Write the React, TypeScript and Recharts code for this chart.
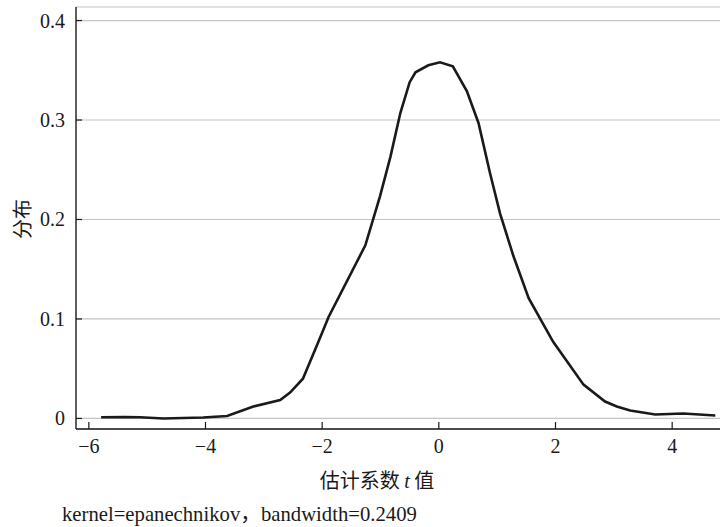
import { LineChart, Line, XAxis, YAxis, CartesianGrid } from 'recharts';

// kernel density estimate of t values
const tValues = [
  -5.79, -5.4, -5.12, -4.72, -4.04, -3.63, -3.18, -2.72, -2.55, -2.33,
  -2.05, -1.89, -1.26, -1.01, -0.83, -0.66, -0.5, -0.4, -0.18, 0.02,
  0.24, 0.48, 0.68, 0.88, 1.05, 1.28, 1.54, 1.96, 2.48, 2.85, 3.05,
  3.28, 3.71, 4.19, 4.74,
];
const density = [
  0.0012, 0.0015, 0.0012, 0.0, 0.001, 0.0025, 0.012, 0.0186, 0.026, 0.04,
  0.079, 0.102, 0.174, 0.223, 0.263, 0.307, 0.338, 0.348, 0.355, 0.358,
  0.354, 0.329, 0.297, 0.246, 0.206, 0.163, 0.121, 0.077, 0.034, 0.017,
  0.012, 0.008, 0.004, 0.005, 0.003,
];
const xTicks = [-6, -4, -2, 0, 2, 4];
const yTicks = [0, 0.1, 0.2, 0.3, 0.4];

const data = tValues.map((t, i) => ({ t, d: density[i] }));

const SERIF = 'Liberation Serif';
const CJK = 'Noto Sans CJK SC';

function NumTick(props: any) {
  const { x, y, payload, textAnchor, orientation } = props;
  const label = String(payload.value).replace('-', '\u2212');
  return (
    <text
      x={x}
      y={y}
      dy={orientation === 'bottom' ? '0.71em' : '0.35em'}
      textAnchor={textAnchor}
      fontSize={20}
      fill="#1a1a1a"
      fontFamily={SERIF}
    >
      {label}
    </text>
  );
}

export default function App() {
  return (
    <div style={{ position: 'absolute', left: 0, top: 0, width: 720, height: 527, background: '#fff' }}>
      <LineChart
        width={720}
        height={527}
        data={data}
        margin={{ top: 7, right: 0, left: 0, bottom: 68 }}
      >
        <CartesianGrid vertical={false} stroke="#c4c4c4" strokeWidth={1.2} />
        <XAxis
          dataKey="t"
          type="number"
          domain={[-6.22, 4.82]}
          ticks={xTicks}
          allowDataOverflow
          height={30}
          tickSize={-7}
          tickMargin={17}
          tick={<NumTick />}
          axisLine={{ stroke: '#1a1a1a', strokeWidth: 1.4 }}
          tickLine={{ stroke: '#1a1a1a', strokeWidth: 1.2 }}
          label={{
            content: () => (
              <text x={377} y={488} textAnchor="middle" fontSize={20} fill="#1a1a1a" fontFamily={CJK}>
                估计系数 <tspan fontStyle="italic" fontFamily={SERIF}>t</tspan> 值
              </text>
            ),
          }}
        />
        <YAxis
          type="number"
          domain={[-0.0106, 0.4136]}
          ticks={yTicks}
          allowDataOverflow
          width={76}
          tickSize={-6}
          tickMargin={17}
          tick={<NumTick />}
          axisLine={{ stroke: '#1a1a1a', strokeWidth: 1.4 }}
          tickLine={{ stroke: '#1a1a1a', strokeWidth: 1.2 }}
          label={{
            content: () => (
              <text
                x={21}
                y={219}
                textAnchor="middle"
                fontSize={20}
                fill="#1a1a1a"
                fontFamily={CJK}
                transform="rotate(-90, 21, 219)"
                dominantBaseline="central"
              >
                分布
              </text>
            ),
          }}
        />
        <Line
          type="linear"
          dataKey="d"
          stroke="#1a1a1a"
          strokeWidth={2.6}
          dot={false}
          isAnimationActive={false}
        />
        <text x={62} y={521} fontSize={20.7} fill="#1a1a1a" fontFamily={SERIF}>
          kernel=epanechnikov<tspan fontFamily={CJK}>，</tspan>bandwidth=0.2409
        </text>
      </LineChart>
    </div>
  );
}
